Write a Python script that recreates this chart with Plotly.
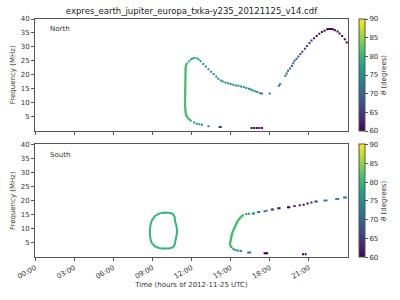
import plotly.graph_objects as go
from plotly.colors import sample_colorscale

# ---------------- data (time in hours of 2012-11-25 UTC, frequency in MHz, theta in degrees)
tick_hours = [0, 3, 6, 9, 12, 15, 18, 21]
tick_labels = ["00:00", "03:00", "06:00", "09:00", "12:00", "15:00", "18:00", "21:00"]
theta_ticks = [60, 65, 70, 75, 80, 85, 90]
freq_ticks = [5, 10, 15, 20, 25, 30, 35, 40]

# North: dense (continuous) part of the emission
north_line_t = [12.0, 11.85, 11.7, 11.6, 11.55, 11.5, 11.5, 11.5, 11.55, 11.6, 11.7]
north_line_f = [3.3, 3.9, 4.6, 5.4, 6.5, 9.0, 15.0, 21.0, 22.6, 23.6, 24.4]
north_line_theta = 81

# North: sparse points
north_t = [11.8, 11.95, 12.05, 12.2, 12.4, 12.55, 12.7, 12.9, 13.1, 13.3, 13.5, 13.7, 13.9,
           14.05, 14.25, 14.4, 14.6, 14.8, 15.0, 15.2, 15.4, 15.6, 15.8, 16.0, 16.2, 16.4,
           16.55, 16.7, 16.9, 17.05, 17.25, 17.4, 18.0,
           12.2, 12.4, 12.6, 12.8, 13.3, 14.15, 14.25,
           16.6, 16.8, 17.0, 17.2, 17.4,
           18.7, 18.8, 19.2, 19.3, 19.4, 19.55, 19.7, 19.8, 19.9, 20.05, 20.2, 20.35, 20.5,
           20.7, 20.85, 21.05, 21.2, 21.4, 21.6, 21.8, 22.0, 22.2, 22.4, 22.55, 22.7, 22.85,
           23.0, 23.2, 23.35, 23.55, 23.75, 23.9]
north_f = [24.9, 25.5, 25.8, 26.0, 25.9, 25.5, 24.9, 23.9, 23.0, 22.0, 21.1, 20.3, 19.4,
           18.6, 18.0, 17.6, 17.2, 17.0, 16.7, 16.4, 16.2, 16.1, 15.8, 15.6, 15.3, 15.0,
           14.7, 14.4, 14.1, 13.8, 13.4, 13.3, 13.3,
           2.9, 2.5, 2.3, 2.1, 1.6, 1.3, 1.3,
           0.95, 0.95, 0.95, 0.95, 0.95,
           16.1, 16.6, 19.7, 20.5, 21.5, 22.3, 23.2, 24.1, 25.0, 25.8, 26.6, 27.5, 28.3,
           29.3, 30.3, 31.4, 32.3, 33.1, 33.9, 34.7, 35.3, 35.8, 36.3, 36.4, 36.4, 36.3,
           36.0, 35.5, 34.8, 33.9, 32.7, 31.6]
north_theta = [79, 78, 78, 77, 77, 77, 76, 76, 76, 76, 75, 75, 75,
               75, 75, 75, 75, 75, 75, 75, 74, 74, 74, 74, 74, 74,
               74, 74, 74, 73, 73, 73, 73,
               77, 76, 76, 75, 72, 66, 66,
               60, 60, 60, 60, 60,
               72, 72, 71, 71, 70, 70, 70, 69, 69, 68, 68, 68, 67,
               66, 65, 64, 63, 62, 61, 61, 60, 60, 60, 60, 60, 60,
               60, 60, 60, 60, 60, 60]

# South: closed loop (continuous)
south_loop_t = [9.55, 9.2, 8.95, 8.85, 8.8, 8.85, 8.95, 9.2, 9.5, 9.7, 10.0, 10.3, 10.55,
                10.7, 10.8, 10.9, 10.85, 10.75, 10.7, 10.6, 10.4, 10.1, 9.9, 9.55]
south_loop_f = [15.5, 14.6, 12.9, 11.2, 8.8, 6.5, 5.0, 3.8, 3.2, 3.0, 3.0, 3.0, 3.4,
                4.2, 6.5, 8.8, 11.0, 12.5, 14.3, 15.2, 15.6, 15.8, 15.8, 15.5]
south_loop_theta = 80

# South: second (continuous) arc
south_line_t = [15.1, 15.0, 14.95, 15.0, 15.1, 15.3, 15.55, 15.8, 16.0]
south_line_f = [3.2, 3.8, 4.7, 5.9, 8.2, 10.5, 12.9, 14.3, 15.0]
south_line_theta = 81

# South: sparse points
south_t = [15.2, 15.3, 15.45, 15.6, 15.8, 16.35, 16.5, 17.6, 17.7, 17.8, 20.55, 20.75,
           16.2, 16.4, 16.7, 16.8, 17.1, 17.2, 17.6, 17.75, 18.15, 18.25, 18.65, 18.75,
           19.4, 19.5, 19.9, 20.3, 20.6, 20.9, 21.2, 21.5, 21.6, 22.2, 22.35, 23.1,
           23.25, 23.7, 23.85]
south_f = [2.9, 2.6, 2.4, 2.2, 2.1, 1.6, 1.6, 1.3, 1.3, 1.3, 0.95, 0.95,
           15.3, 15.4, 15.5, 15.5, 16.0, 16.0, 16.3, 16.4, 16.9, 16.9, 17.3, 17.3,
           17.7, 17.7, 18.1, 18.4, 18.6, 19.0, 19.4, 19.7, 19.7, 20.1, 20.1, 20.6,
           20.6, 21.1, 21.1]
south_theta = [78, 77, 76, 75, 75, 70, 70, 60, 60, 60, 60, 60,
               76, 75, 75, 75, 74, 74, 71, 71, 66, 66, 62, 62,
               60, 60, 60, 60, 60, 60, 62, 67, 67, 71, 71, 73,
               73, 73, 73]

TITLE = "expres_earth_jupiter_europa_txka-y235_20121125_v14.cdf"
THETA_MIN, THETA_MAX = 60, 90

# ---------------- figure
FONT = "DejaVu Sans"
AX = "#555555"
TXT = "#333333"
MSIZE = 2


def theta_color(v):
    return sample_colorscale("Viridis", [(v - THETA_MIN) / (THETA_MAX - THETA_MIN)])[0]


fig = go.Figure()

# North panel (x2 / y2)
fig.add_trace(go.Scatter(x=north_line_t, y=north_line_f, mode="lines",
                         line=dict(color=theta_color(north_line_theta), width=2.3),
                         xaxis="x2", yaxis="y2", showlegend=False, hoverinfo="skip"))
fig.add_trace(go.Scatter(x=north_t, y=north_f, mode="markers",
                         marker=dict(symbol="square", size=MSIZE, color=north_theta,
                                     coloraxis="coloraxis", line=dict(width=0)),
                         xaxis="x2", yaxis="y2", showlegend=False))

# South panel (x / y)
fig.add_trace(go.Scatter(x=south_loop_t, y=south_loop_f, mode="lines",
                         line=dict(color=theta_color(south_loop_theta), width=2.0),
                         xaxis="x", yaxis="y", showlegend=False, hoverinfo="skip"))
fig.add_trace(go.Scatter(x=south_line_t, y=south_line_f, mode="lines",
                         line=dict(color=theta_color(south_line_theta), width=2.4),
                         xaxis="x", yaxis="y", showlegend=False, hoverinfo="skip"))
fig.add_trace(go.Scatter(x=south_t, y=south_f, mode="markers",
                         marker=dict(symbol="square", size=MSIZE, color=south_theta,
                                     coloraxis="coloraxis2", line=dict(width=0)),
                         xaxis="x", yaxis="y", showlegend=False))

axis_common = dict(range=[0, 24], tickvals=tick_hours, ticks="outside", ticklen=3,
                   tickcolor=AX, showline=True, linecolor=AX, linewidth=1, mirror=True,
                   showgrid=False, zeroline=False, tickfont=dict(size=7, color=TXT))
yaxis_common = dict(range=[0, 40], tickvals=freq_ticks, ticks="outside", ticklen=3,
                    tickcolor=AX, showline=True, linecolor=AX, linewidth=1, mirror=True,
                    showgrid=False, zeroline=False, tickfont=dict(size=7, color=TXT),
                    title=dict(text="Frequency (MHz)", font=dict(size=7, color=TXT), standoff=4))


def cbar(y, length):
    return dict(x=1.034, xanchor="left", xpad=0, thickness=6, len=length, lenmode="fraction",
                y=y, yanchor="top", ypad=0, tickvals=theta_ticks, ticks="outside", ticklen=3,
                tickcolor=AX, outlinewidth=1, outlinecolor=AX,
                tickfont=dict(size=7, color=TXT),
                title=dict(text="<i>θ</i> (degrees)", side="right", font=dict(size=7, color=TXT)))


fig.update_layout(
    width=400, height=300,
    margin=dict(l=31, r=50, t=19, b=38),
    paper_bgcolor="white", plot_bgcolor="white",
    font=dict(family=FONT, color=TXT),
    title=dict(text=TITLE, x=0.5, xref="paper", xanchor="center",
               y=1 - 11 / 300, yref="container", yanchor="middle",
               font=dict(size=8.5, color="#222222")),
    xaxis=dict(axis_common, anchor="y", domain=[0, 1], ticktext=tick_labels, tickangle=-30,
               title=dict(text="Time (hours of 2012-11-25 UTC)", font=dict(size=7, color=TXT),
                          standoff=2)),
    yaxis=dict(yaxis_common, anchor="x", domain=[0, 0.473]),
    xaxis2=dict(axis_common, anchor="y2", domain=[0, 1], showticklabels=False, matches="x"),
    yaxis2=dict(yaxis_common, anchor="x2", domain=[0.531, 1]),
    coloraxis=dict(colorscale="Viridis", cmin=THETA_MIN, cmax=THETA_MAX,
                   colorbar=cbar(1.0, 0.469)),
    coloraxis2=dict(colorscale="Viridis", cmin=THETA_MIN, cmax=THETA_MAX,
                    colorbar=cbar(0.473, 0.473)),
    annotations=[
        dict(text="North", xref="x2 domain", yref="y2 domain", x=0.04, y=0.91,
             xanchor="left", yanchor="middle", showarrow=False, font=dict(size=7, color=TXT)),
        dict(text="South", xref="x domain", yref="y domain", x=0.04, y=0.91,
             xanchor="left", yanchor="middle", showarrow=False, font=dict(size=7, color=TXT)),
    ],
)

fig.write_html("out.html")
